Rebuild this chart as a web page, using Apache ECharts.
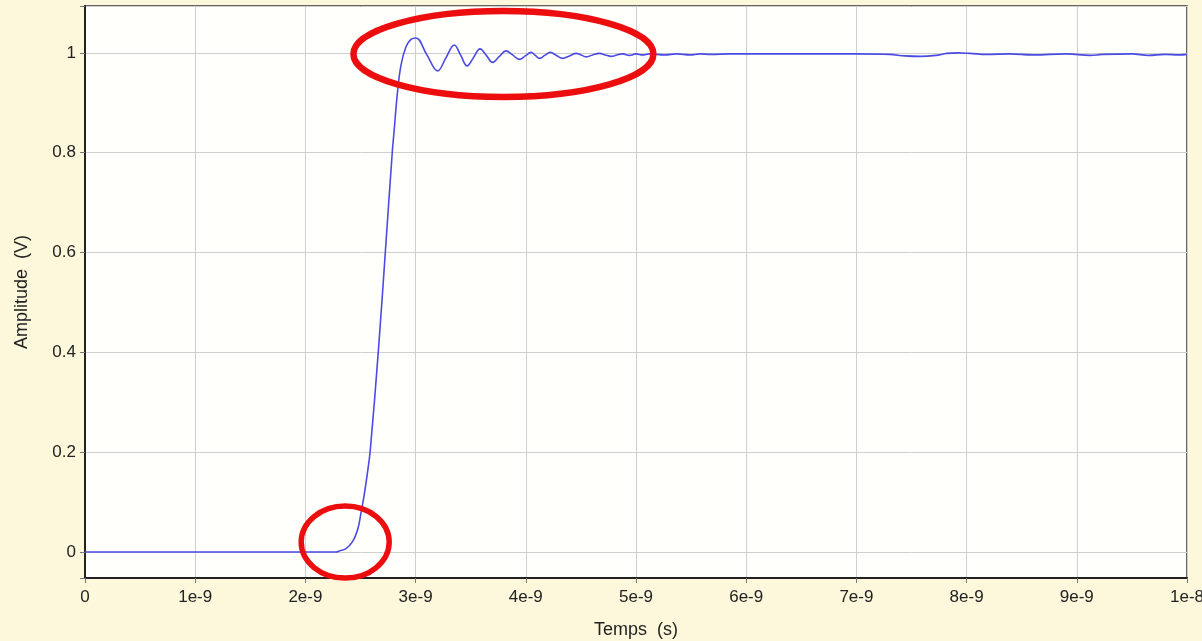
<!DOCTYPE html>
<html>
<head>
<meta charset="utf-8">
<script src="https://cdn.jsdelivr.net/npm/echarts@6/dist/echarts.min.js"></script>
<style>
  html, body { margin: 0; padding: 0; background: #FDF7DC; }
  #chart { width: 1202px; height: 641px; }
</style>
</head>
<body>
<div id="chart"></div>
<script>
// temps en ns, amplitude en V
const timeNs = [
  0, 1, 2, 2.2, 2.28, 2.307, 2.368, 2.428, 2.473, 2.504, 2.534, 2.564, 2.589,
  2.661, 2.725, 2.788, 2.806, 2.835, 2.867, 2.912, 2.958, 3.003, 3.10, 3.200,
  3.275, 3.351, 3.41, 3.467, 3.526, 3.585, 3.642, 3.699, 3.76, 3.821, 3.88,
  3.942, 3.995, 4.048, 4.086, 4.124, 4.172, 4.221, 4.278, 4.335, 4.396, 4.457,
  4.502, 4.547, 4.607, 4.668, 4.721, 4.775, 4.827, 4.880, 4.941, 5.00, 5.06,
  5.12, 5.26, 5.37, 5.49, 5.58, 5.68, 5.85, 6.0, 6.5, 7.0, 7.3, 7.44, 7.58,
  7.72, 7.82, 7.92, 8.03, 8.18, 8.39, 8.6, 8.91, 9.12, 9.23, 9.5, 9.65, 9.8,
  9.93, 10
];
const amplitude = [
  0, 0, 0, 0, 0, 0.002, 0.007, 0.021, 0.044, 0.078, 0.115, 0.16, 0.205,
  0.4, 0.6, 0.8, 0.846, 0.92, 0.975, 1.012, 1.027, 1.03, 0.997, 0.964,
  0.990, 1.016, 0.995, 0.974, 0.991, 1.008, 0.995, 0.981, 0.993, 1.004, 0.996,
  0.987, 0.994, 1.001, 0.995, 0.989, 0.995, 1.001, 0.995, 0.989, 0.994, 0.999,
  0.996, 0.992, 0.996, 0.999, 0.996, 0.993, 0.996, 0.998, 0.995, 0.998, 0.996,
  0.998, 0.996, 0.998, 0.996, 0.998, 0.997, 0.998, 0.998, 0.998, 0.998, 0.997, 0.994, 0.993,
  0.995, 0.999, 1.000, 0.999, 0.997, 0.998, 0.996, 0.998, 0.995, 0.997, 0.998, 0.995, 0.997,
  0.996, 0.997
];
const xTickLabels = ['0', '1e-9', '2e-9', '3e-9', '4e-9', '5e-9', '6e-9', '7e-9', '8e-9', '9e-9', '1e-8'];
const yTickLabels = ['0', '0.2', '0.4', '0.6', '0.8', '1'];

const chart = echarts.init(document.getElementById('chart'));
const font = 'Liberation Sans, Arial, sans-serif';

const option = {
  backgroundColor: '#FDF7DC',
  animation: false,
  grid: {
    left: 85, right: 15, top: 6, bottom: 63,
    outerBoundsMode: 'none', containLabel: false,
    show: true, backgroundColor: '#FFFFFC', borderColor: '#333', borderWidth: 1.5
  },
  xAxis: {
    type: 'value', min: 0, max: 10, interval: 1,
    name: 'Temps  (s)', nameLocation: 'middle', nameGap: 43,
    nameTextStyle: { fontFamily: font, fontSize: 18, color: '#222' },
    axisLine: { onZero: false, lineStyle: { color: '#222', width: 2 } },
    axisTick: { length: 5, lineStyle: { color: '#777' } },
    axisLabel: {
      fontFamily: font, fontSize: 17, color: '#222', margin: 11,
      formatter: v => xTickLabels[Math.round(v)]
    },
    splitLine: { show: true, lineStyle: { color: '#cfcfcf', width: 1 } }
  },
  yAxis: {
    type: 'value', min: -0.052, max: 1.094, splitNumber: 5,
    name: 'Amplitude  (V)', nameLocation: 'middle', nameGap: 54,
    nameTextStyle: { fontFamily: font, fontSize: 18, color: '#222' },
    axisLine: { show: true, onZero: false, lineStyle: { color: '#222', width: 2 } },
    axisTick: { show: true, length: 5, lineStyle: { color: '#777' } },
    axisLabel: {
      fontFamily: font, fontSize: 17, color: '#222', margin: 9,
      formatter: v => {
        const i = Math.round(v / 0.2);
        return Math.abs(v - i * 0.2) < 1e-6 && yTickLabels[i] ? yTickLabels[i] : '';
      }
    },
    splitLine: { show: true, lineStyle: { color: '#cfcfcf', width: 1 } }
  },
  series: [{
    type: 'line',
    data: timeNs.map((t, i) => [t, amplitude[i]]),
    showSymbol: false,
    smooth: 0.4,
    lineStyle: { color: '#4B4BE3', width: 1.6 }
  }]
};
chart.setOption(option);

// ellipses rouges d'annotation, centrées en coordonnées de données
const e1 = chart.convertToPixel({ gridIndex: 0 }, [3.797, 0.998]);
const e2 = chart.convertToPixel({ gridIndex: 0 }, [2.361, 0.02]);
chart.setOption({
  graphic: [
    { type: 'ellipse', z: 100, shape: { cx: e1[0], cy: e1[1], rx: 150, ry: 43 },
      style: { fill: 'none', stroke: '#EC0E0E', lineWidth: 6.5 } },
    { type: 'ellipse', z: 100, shape: { cx: e2[0], cy: e2[1], rx: 44, ry: 36 },
      style: { fill: 'none', stroke: '#EC0E0E', lineWidth: 5.5 } }
  ]
});
</script>
</body>
</html>
